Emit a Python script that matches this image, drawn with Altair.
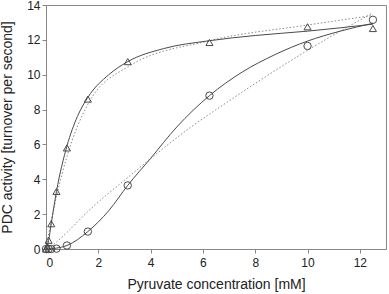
import altair as alt
import pandas as pd

# Measured data points
tri_x = [0, 0.05, 0.1, 0.2, 0.4, 0.8, 1.6, 3.125, 6.25, 10, 12.5]
tri_y = [0, 0.15, 0.5, 1.45, 3.3, 5.8, 8.6, 10.75, 11.85, 12.75, 12.65]
circ_x = [0, 0.1, 0.2, 0.4, 0.8, 1.6, 3.125, 6.25, 10, 12.5]
circ_y = [0, 0, 0, 0.02, 0.2, 1.0, 3.65, 8.8, 11.65, 13.15]

# Solid fitted curves
sol_tri_x = [0, 0.1, 0.2, 0.4, 0.8, 1.2, 1.6, 2.4, 3.125, 4.5, 6.25, 8, 10, 12.5]
sol_tri_y = [0, 0.5, 1.45, 3.3, 5.9, 7.6, 8.7, 10.0, 10.75, 11.5, 11.95, 12.25, 12.5, 12.9]
sol_circ_x = [0, 0.4, 0.8, 1.6, 2.4, 3.125, 4, 5, 6.25, 7.5, 8.75, 10, 11.25, 12.5]
sol_circ_y = [0, 0.05, 0.2, 1.0, 2.2, 3.65, 5.2, 7.0, 8.8, 10.15, 11.15, 11.93, 12.5, 12.95]

# Dotted curves
dot_tri_x = [0, 0.2, 0.4, 0.8, 1.6, 3.125, 6.25, 10, 12.5]
dot_tri_y = [0, 1.6, 3.0, 5.3, 8.3, 10.45, 11.95, 12.85, 13.4]
dot_circ_x = [0.1, 0.8, 1.6, 3.125, 5.5, 7.0, 10, 12.5]
dot_circ_y = [0, 0.95, 2.15, 4.1, 6.95, 8.5, 11.4, 13.55]

LINE = "#4a4a4a"
DOT = "#8a8a8a"

xs = alt.Scale(domain=[0, 13], nice=False)
ys = alt.Scale(domain=[0, 14], nice=False)

xax = alt.Axis(values=[0, 2, 4, 6, 8, 10, 12], title="Pyruvate concentration [mM]",
               labelPadding=4, titlePadding=9)
yax = alt.Axis(values=[0, 2, 4, 6, 8, 10, 12, 14], title="PDC activity [turnover per second]",
               labelPadding=2, titlePadding=12)


def line(xv, yv, color, dash=None, interp="monotone"):
    df = pd.DataFrame({"x": xv, "y": yv})
    kw = dict(color=color, strokeWidth=1, interpolate=interp)
    if dash:
        kw["strokeDash"] = dash
    return alt.Chart(df).mark_line(**kw).encode(
        x=alt.X("x:Q", scale=xs, axis=xax),
        y=alt.Y("y:Q", scale=ys, axis=yax),
    )


def points(xv, yv, shape, size):
    df = pd.DataFrame({"x": xv, "y": yv})
    return alt.Chart(df).mark_point(shape=shape, size=size, filled=False,
                                     stroke=LINE, strokeWidth=1, opacity=1).encode(
        x=alt.X("x:Q", scale=xs, axis=xax),
        y=alt.Y("y:Q", scale=ys, axis=yax),
    )


chart = alt.layer(
    line(dot_tri_x, dot_tri_y, DOT, [1.5, 2]),
    line(dot_circ_x, dot_circ_y, DOT, [1.5, 2]),
    line(sol_tri_x, sol_tri_y, LINE),
    line(sol_circ_x, sol_circ_y, LINE),
    points(tri_x, tri_y, "triangle-up", 50),
    points(circ_x, circ_y, "circle", 55),
).properties(
    width=340, height=244,
    autosize=alt.AutoSizeParams(type="none"),
    padding={"left": 46, "top": 5, "right": 3, "bottom": 45},
).configure_view(
    stroke="#888888", strokeWidth=1
).configure_axis(
    grid=False, domainColor="#888888", tickColor="#888888", tickSize=4,
    labelFont="Liberation Sans", labelFontSize=12, labelColor="#222222",
    titleFont="Liberation Sans", titleFontSize=14, titleFontWeight="normal", titleColor="#222222",
)

chart.save("out.html", embed_options={"renderer": "svg", "actions": False})
